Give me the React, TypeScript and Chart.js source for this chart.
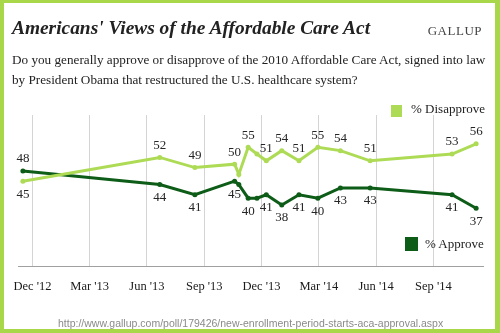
import React, { useEffect, useRef } from "react";
import { Chart, registerables } from "chart.js";

Chart.register(...registerables);

const TITLE = "Americans' Views of the Affordable Care Act";
const BRAND = "GALLUP";
const QUESTION_LINES = [
  "Do you generally approve or disapprove of the 2010 Affordable Care Act, signed into law",
  "by President Obama that restructured the U.S. healthcare system?",
];
const SOURCE = "http://www.gallup.com/poll/179426/new-enrollment-period-starts-aca-approval.aspx";

// poll dates, in months since 1 Dec 2012
const POLL_MONTHS = [-0.5, 6.67, 8.51, 10.59, 10.81, 11.3, 11.76, 12.25, 13.06, 13.96, 14.95, 16.13, 17.69, 21.98, 23.24];
const APPROVE = [48, 44, 41, 45, 44, 40, 40, 41, 38, 41, 40, 43, 43, 41, 37];
const DISAPPROVE = [45, 52, 49, 50, 47, 55, 53, 51, 54, 51, 55, 54, 51, 53, 56];
const LABELED = [true, true, true, true, false, true, false, true, true, true, true, true, true, true, true];

const TICK_MONTHS = [0, 3, 6, 9, 12, 15, 18, 21];
const TICK_LABELS = ["Dec '12", "Mar '13", "Jun '13", "Sep '13", "Dec '13", "Mar '14", "Jun '14", "Sep '14"];

const LIGHT = "#aedb56";
const DARK = "#0d5c17";
const BORDER = "#a8d84a";
const SERIF = "'Liberation Serif', 'DejaVu Serif', serif";

const labelPlugin = {
  id: "pointLabels",
  afterDatasetsDraw(chart: any) {
    const ctx = chart.ctx;
    ctx.save();
    ctx.font = `13px ${SERIF}`;
    ctx.fillStyle = "#262626";
    ctx.textAlign = "center";
    ctx.textBaseline = "middle";
    chart.data.datasets.forEach((ds: any, di: number) => {
      const other = chart.data.datasets[1 - di];
      chart.getDatasetMeta(di).data.forEach((pt: any, i: number) => {
        if (!LABELED[i]) return;
        const v = ds.data[i].y;
        const above = v > other.data[i].y;
        ctx.fillText(String(v), pt.x, pt.y + (above ? -12 : 13));
      });
    });
    ctx.restore();
  },
};

function ChartCanvas() {
  const ref = useRef<HTMLCanvasElement | null>(null);
  useEffect(() => {
    if (!ref.current) return;
    const mk = (label: string, vals: number[], color: string) => ({
      label,
      data: POLL_MONTHS.map((m, i) => ({ x: m, y: vals[i] })),
      borderColor: color,
      backgroundColor: color,
      pointBackgroundColor: color,
      pointBorderColor: color,
      pointBorderWidth: 0,
      pointRadius: 2.5,
      borderWidth: 3,
      tension: 0,
    });
    const chart = new Chart(ref.current, {
      type: "line",
      data: {
        datasets: [mk("% Disapprove", DISAPPROVE, LIGHT), mk("% Approve", APPROVE, DARK)],
      },
      options: {
        responsive: false,
        animation: false,
        devicePixelRatio: 1,
        layout: { padding: { left: 14, right: 17, top: 115, bottom: 0 } },
        plugins: { legend: { display: false }, tooltip: { enabled: false }, title: { display: false } },
        scales: {
          x: {
            type: "linear",
            min: -0.75,
            max: 23.6,
            afterBuildTicks: (s: any) => {
              s.ticks = TICK_MONTHS.map((v) => ({ value: v }));
            },
            afterFit: (s: any) => {
              s.height = 67;
            },
            ticks: {
              autoSkip: false,
              maxRotation: 0,
              padding: 13,
              color: "#1a1a1a",
              font: { family: SERIF, size: 12.5 },
              callback: (v: any) => {
                const i = TICK_MONTHS.indexOf(Number(v));
                return i >= 0 ? TICK_LABELS[i] : "";
              },
            },
            grid: { color: "#d4d4d4", drawTicks: false, tickLength: 0, lineWidth: 1 },
            border: { display: true, color: "#a0a0a0", width: 1 },
          },
          y: { display: false, min: 20, max: 64.5 },
        },
      } as any,
      plugins: [labelPlugin],
    });
    return () => chart.destroy();
  }, []);
  return <canvas ref={ref} width={500} height={333} style={{ position: "absolute", left: 0, top: 0 }} />;
}

export default function App() {
  return (
    <div
      style={{
        position: "fixed",
        left: 0,
        top: 0,
        width: 500,
        height: 333,
        background: "#fff",
        overflow: "hidden",
      }}
    >
      <ChartCanvas />
      <div
        style={{
          position: "absolute",
          left: 0,
          top: 0,
          width: 500,
          height: 333,
          boxSizing: "border-box",
          borderStyle: "solid",
          borderColor: BORDER,
          borderWidth: "3px 5px 4px 4px",
          pointerEvents: "none",
        }}
      />
      <div
        style={{
          position: "absolute",
          left: 12,
          top: 18,
          fontFamily: SERIF,
          fontSize: 19.4,
          lineHeight: "20px",
          fontWeight: "bold",
          fontStyle: "italic",
          color: "#222",
          whiteSpace: "nowrap",
        }}
      >
        {TITLE}
      </div>
      <div
        style={{
          position: "absolute",
          right: 18,
          top: 24,
          fontFamily: SERIF,
          fontSize: 13,
          lineHeight: "13px",
          color: "#444",
          letterSpacing: 0.5,
          whiteSpace: "nowrap",
        }}
      >
        {BRAND}
      </div>
      <div
        style={{
          position: "absolute",
          left: 12,
          top: 50,
          fontFamily: SERIF,
          fontSize: 13.2,
          lineHeight: "19.5px",
          color: "#222",
          whiteSpace: "nowrap",
        }}
      >
        {QUESTION_LINES.map((l, i) => (
          <div key={i}>{l}</div>
        ))}
      </div>
      <div style={{ position: "absolute", left: 391, top: 105, width: 11, height: 12, background: LIGHT }} />
      <div
        style={{
          position: "absolute",
          left: 411,
          top: 101,
          fontFamily: SERIF,
          fontSize: 13,
          lineHeight: "15px",
          color: "#222",
          whiteSpace: "nowrap",
        }}
      >
        % Disapprove
      </div>
      <div style={{ position: "absolute", left: 405, top: 237, width: 13, height: 14, background: DARK }} />
      <div
        style={{
          position: "absolute",
          left: 425,
          top: 236,
          fontFamily: SERIF,
          fontSize: 13,
          lineHeight: "15px",
          color: "#222",
          whiteSpace: "nowrap",
        }}
      >
        % Approve
      </div>
      <div
        style={{
          position: "absolute",
          left: 58,
          top: 317,
          fontFamily: "'Liberation Sans', Arial, sans-serif",
          fontSize: 10.5,
          lineHeight: "12px",
          color: "#8a8a8a",
          whiteSpace: "nowrap",
        }}
      >
        {SOURCE}
      </div>
    </div>
  );
}
